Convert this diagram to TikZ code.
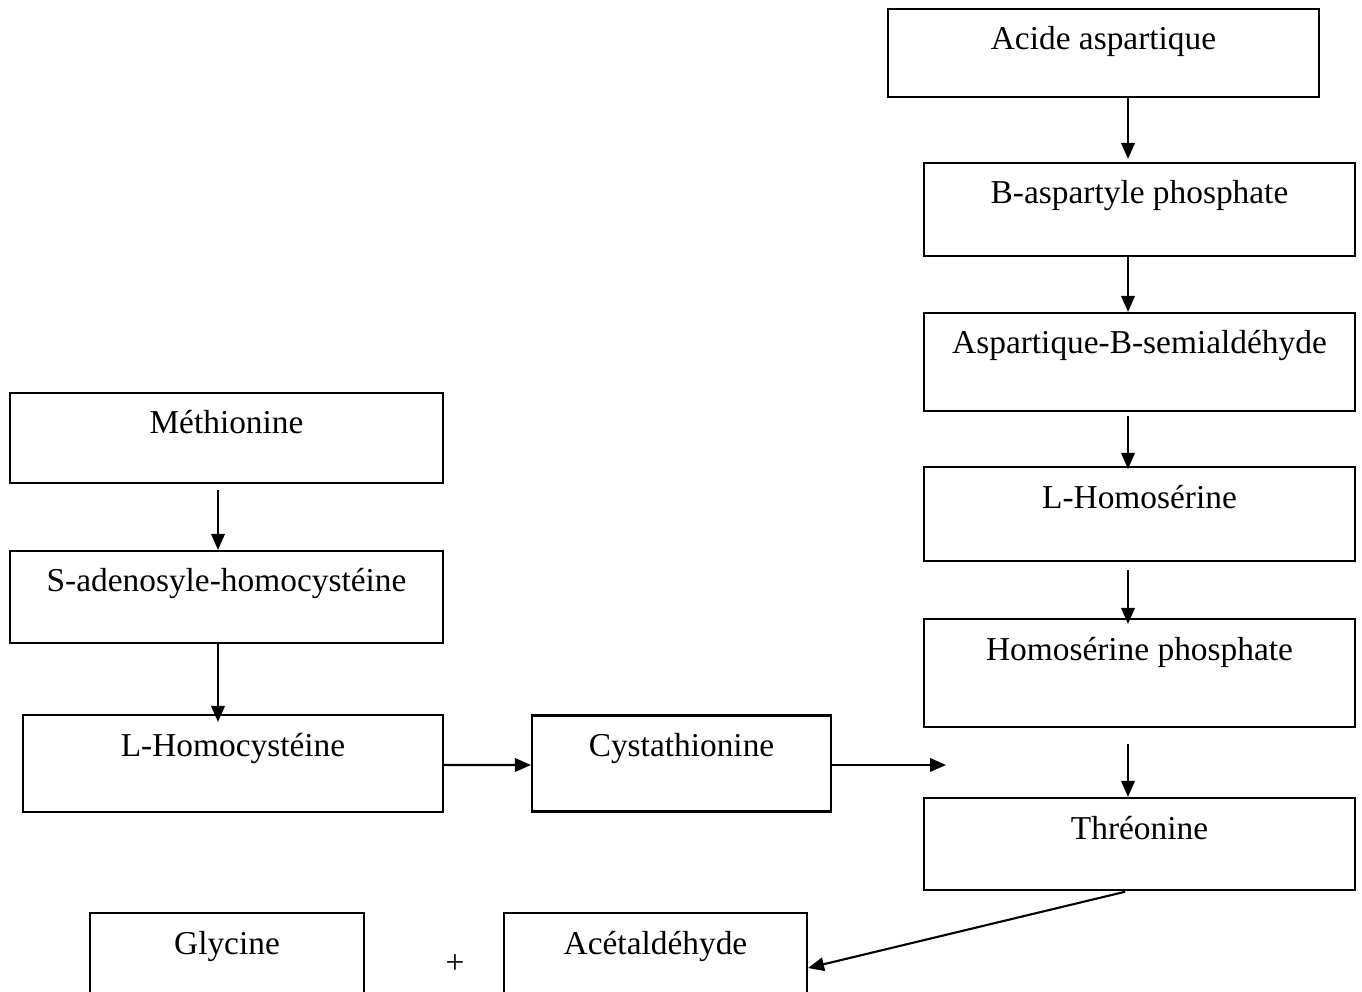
\documentclass[tikz,border=0pt]{standalone}
\usepackage{fontspec}
\setmainfont{Liberation Serif}
\usepackage{tikz}
\usetikzlibrary{arrows.meta,positioning}

\begin{document}
\begin{tikzpicture}[
    node distance=3.1cm,
    >={Triangle[length=0.32cm,width=0.27cm]},
    line width=0.042cm,
    font=\fontsize{19}{23}\selectfont,
    compound/.style={
		rectangle,
		draw=black,
		inner sep=0pt,
		text centered,
		text height=0.82cm,
		minimum width=8.62cm,
		fill=white
	},
	plus/.style={
		inner sep=0pt
	}
  ]

\useasboundingbox (0,0) rectangle (27.24,-19.84);

% // aspartate branch
\node [compound, text depth=0.94cm] (acide) at (22.07,-1.06) {Acide aspartique};
\node [compound, text depth=1.04cm, below of=acide, xshift=0.72cm, yshift=-0.03cm] (basp) {B-aspartyle phosphate};
\node [compound, text depth=1.14cm, below of=basp, yshift=0.05cm] (semiald) {Aspartique-B-semialdéhyde};
\node [compound, text depth=1.06cm, below of=semiald, yshift=0.06cm] (lhomoser) {L-Homosérine};
\node [compound, text depth=1.34cm, below of=lhomoser, yshift=-0.08cm] (homoserp) {Homosérine phosphate};
\node [compound, text depth=1.02cm, below of=homoserp, yshift=-0.32cm] (threo) {Thréonine};

% // methionine branch
\node [compound, text depth=0.98cm, minimum width=8.66cm] (methio) at (4.53,-8.76) {Méthionine};
\node [compound, text depth=1.02cm, minimum width=8.66cm, below of=methio, yshift=-0.08cm] (sadeno) {S-adenosyle-homocystéine};
\node [compound, text depth=1.12cm, minimum width=8.40cm, below of=sadeno, xshift=0.13cm, yshift=-0.23cm] (lhomocys) {L-Homocystéine};
\node [compound, text depth=1.10cm, minimum width=5.98cm, right of=lhomocys, xshift=5.87cm] (cysta) {Cystathionine};

% // products
\node [compound, text depth=1.08cm, minimum width=5.48cm] (glyc) at (4.54,-19.21) {Glycine};
\node [compound, text depth=1.08cm, minimum width=6.06cm] (acet) at (13.11,-19.21) {Acétaldéhyde};
\node [plus] (plus) at (9.10,-19.28) {+};

\coordinate (rightaxis) at (22.56,0);
\coordinate (leftaxis) at (4.36,0);
\coordinate (cystaend) at (18.92,-15.30);

 \draw [->, shorten >=0.06cm] (acide.south -| rightaxis) -- (basp.north -| rightaxis);
 \draw [->] (basp.south -| rightaxis) -- (semiald.north -| rightaxis);
 \draw [->, shorten <=0.08cm, shorten >=-0.06cm] (semiald.south -| rightaxis) -- (lhomoser.north -| rightaxis);
 \draw [->, shorten <=0.16cm, shorten >=-0.12cm] (lhomoser.south -| rightaxis) -- (homoserp.north -| rightaxis);
 \draw [->, shorten <=0.32cm] (homoserp.south -| rightaxis) -- (threo.north -| rightaxis);

 \draw [->, shorten <=0.12cm] (methio.south -| leftaxis) -- (sadeno.north -| leftaxis);
 \draw [->, shorten >=-0.16cm] (sadeno.south -| leftaxis) -- (lhomocys.north -| leftaxis);

 \draw [->] ([yshift=-0.03cm]lhomocys.east) -- (cysta.west |- cystaend);
 \draw [->] (cysta.east |- cystaend) -- (cystaend);
 \draw [->, shorten <=0.06cm] (threo.south -| rightaxis) -- ([yshift=-0.15cm]acet.east);

\end{tikzpicture}
\end{document}
